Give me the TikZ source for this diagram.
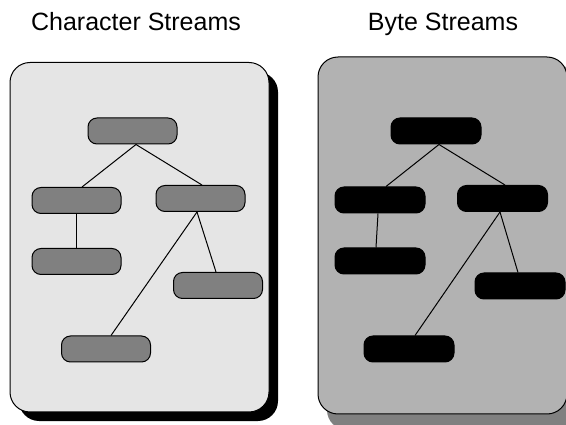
\documentclass[tikz,border=0pt]{standalone}
\usepackage{fontspec}
\setmainfont{Liberation Sans}
\begin{document}
\begin{tikzpicture}[x=1pt,y=-1pt,
  title/.style={anchor=base,font=\fontsize{25}{30}\selectfont,inner sep=0pt},
  lnode/.style={draw=black,line width=1pt,fill=black!50,minimum width=89pt,minimum height=26pt,rounded corners=9pt,inner sep=0pt},
  rnode/.style={draw=black,line width=1pt,fill=black,minimum width=90pt,minimum height=26pt,rounded corners=9pt,inner sep=0pt},
  conn/.style={draw=black,line width=1pt}]
\useasboundingbox (0,0) rectangle (566,425);
\fill[white] (0,0) rectangle (566,425);
% titles
\node[title] (tl) at (136,31) {Character Streams};
\node[title] (tr) at (443,31) {Byte Streams};
% left panel
\fill[black,rounded corners=20pt] (19,72) rectangle (278,421);
\draw[fill=black!10,line width=1pt,rounded corners=20pt] (10,62.5) rectangle (269,412);
% right panel
\fill[black!50,rounded corners=20pt] (327,66) rectangle (580,430);
\draw[fill=black!30,line width=1pt,rounded corners=20pt] (318,57) rectangle (567,414);
% left nodes
\node[lnode] (lt) at (132.5,131) {};
\node[lnode] (lml) at (76.5,200.5) {};
\node[lnode] (lmr) at (200.5,198.5) {};
\node[lnode] (lll) at (76.5,261.5) {};
\node[lnode] (lrl) at (218,285.5) {};
\node[lnode] (lbl) at (106,349) {};
\draw[conn] ([xshift=3.5pt]lt.south) -- ([xshift=5.5pt]lml.north);
\draw[conn] ([xshift=3.5pt]lt.south) -- ([xshift=1.5pt]lmr.north);
\draw[conn] (lml.south) -- (lll.north);
\draw[conn] ([xshift=-3.5pt]lmr.south) -- ([xshift=-2pt]lrl.north);
\draw[conn] ([xshift=-3.5pt]lmr.south) -- ([xshift=5pt]lbl.north);
% right nodes
\node[rnode] (rt) at (436,131) {};
\node[rnode] (rml) at (380,200) {};
\node[rnode] (rmr) at (502.5,198.5) {};
\node[rnode] (rll) at (380,261) {};
\node[rnode] (rrl) at (520,286) {};
\node[rnode] (rbl) at (409,349) {};
\draw[conn] ([xshift=3pt]rt.south) -- ([xshift=6pt]rml.north);
\draw[conn] ([xshift=3pt]rt.south) -- ([xshift=2.5pt]rmr.north);
\draw[conn] ([xshift=-2pt]rml.south) -- ([xshift=-4pt]rll.north);
\draw[conn] ([xshift=-2.5pt]rmr.south) -- ([xshift=-2pt]rrl.north);
\draw[conn] ([xshift=-2.5pt]rmr.south) -- ([xshift=6pt]rbl.north);
\end{tikzpicture}
\end{document}
